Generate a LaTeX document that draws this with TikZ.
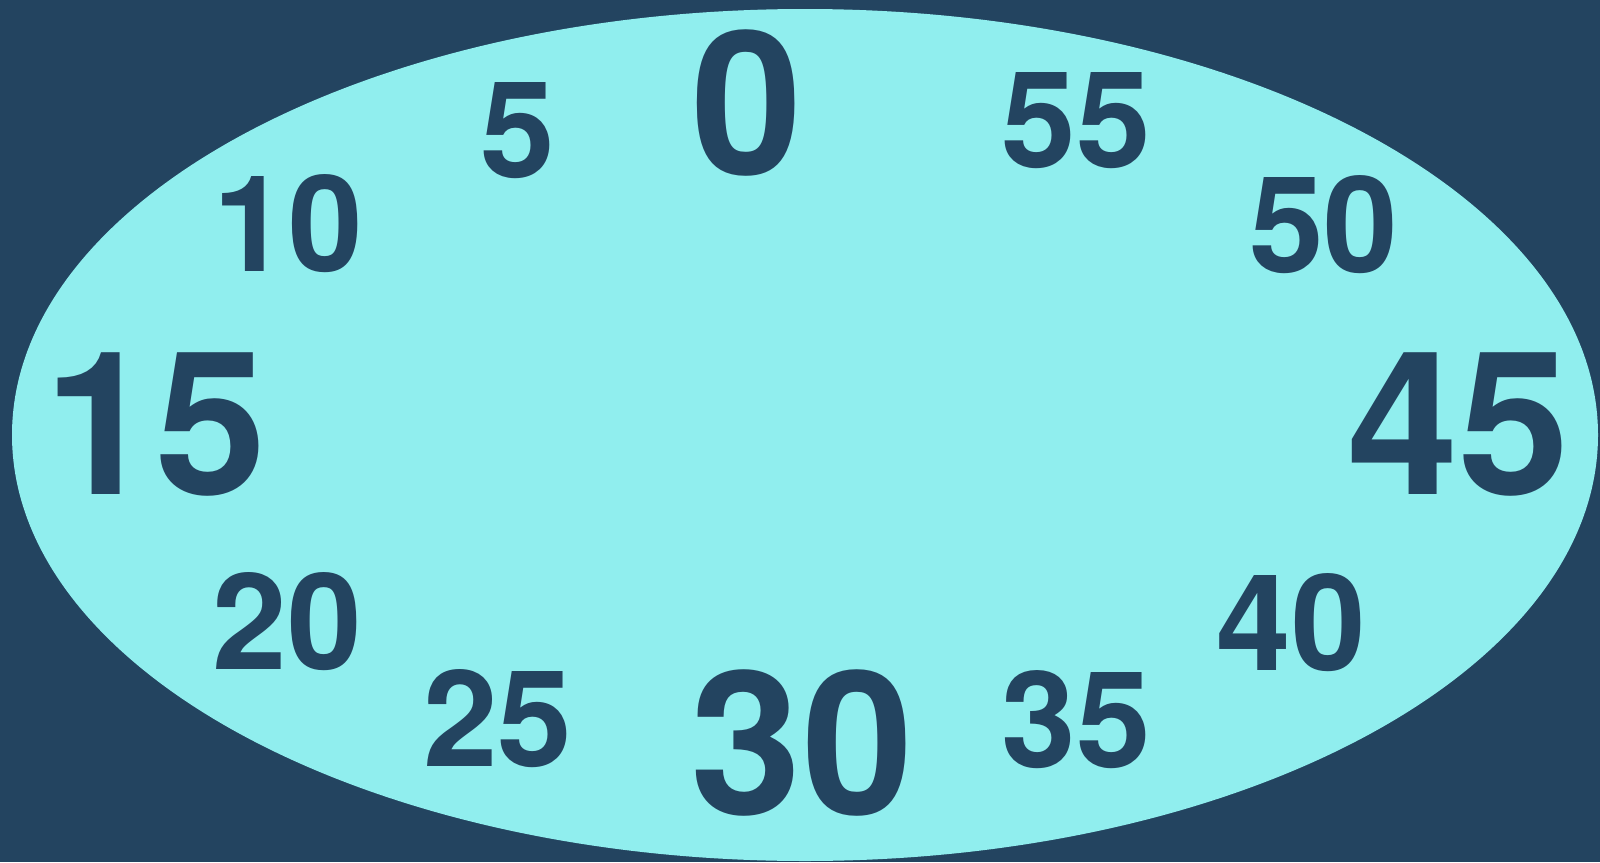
\documentclass[tikz,border=0pt]{standalone}
\usepackage{fontspec}
\setmainfont{TeX Gyre Heros}
\definecolor{darkbg}{RGB}{35,68,96}
\definecolor{face}{RGB}{144,238,238}
\begin{document}
\begin{tikzpicture}[x=0.5pt,y=-0.5pt,
  big/.style={anchor=base,inner sep=0pt,text=darkbg,font=\fontsize{100}{120}\selectfont\bfseries},
  small/.style={anchor=base,inner sep=0pt,text=darkbg,font=\fontsize{67}{80}\selectfont\bfseries}]
\fill[darkbg] (0,0) rectangle (1600,862);
\useasboundingbox (0,0) rectangle (1600,862);
\begin{scope}
\clip (0,0) rectangle (1600,862);
\fill[face] (805,435) ellipse [x radius=396.5pt, y radius=213pt];
\end{scope}
\node[big] (m0) at (747,174) {0};
\node[small] (m5) at (518,177) {5};
\node[small] (m10) at (288,271.5) {10};
\node[big] (m15) at (155.6,494) {15};
\node[small] (m20) at (287.5,669.3) {20};
\node[small] (m25) at (497.8,766.7) {25};
\node[big] (m30) at (802,814) {30};
\node[small] (m35) at (1076.3,767.5) {35};
\node[small] (m40) at (1291,670) {40};
\node[big] (m45) at (1458.5,494) {45};
\node[small] (m50) at (1323.7,272) {50};
\node[small] (m55) at (1076.4,167) {55};
\end{tikzpicture}
\end{document}
